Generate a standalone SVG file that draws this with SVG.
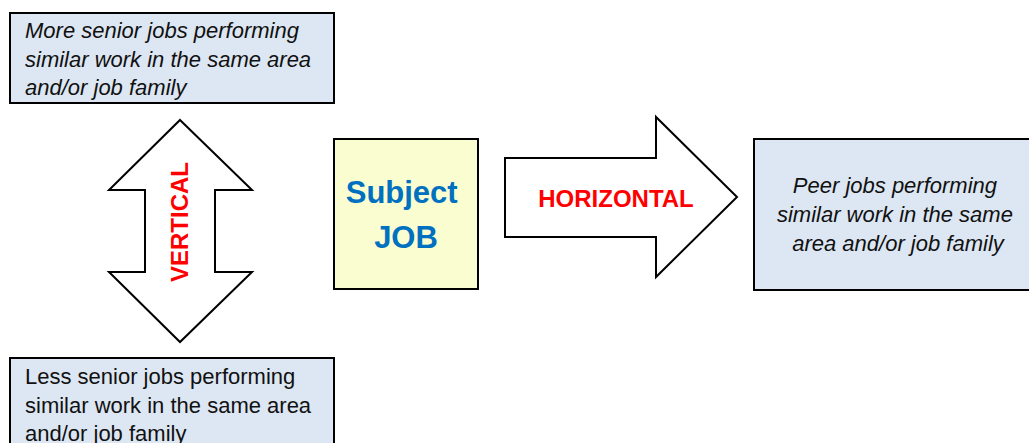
<svg xmlns="http://www.w3.org/2000/svg" width="1029" height="443" viewBox="0 0 1029 443">
  <style>
    .box { stroke: #000; stroke-width: 2; }
    .blue { fill: #DDE7F3; }
    .yellow { fill: #FAFDD0; }
    .arrow { fill: #fff; stroke: #000; stroke-width: 2; stroke-linejoin: miter; }
    .desc { font-family: "Liberation Sans", Arial, sans-serif; font-size: 22px; fill: #111; }
    .it { font-style: italic; }
    .dir { font-family: "Liberation Sans", Arial, sans-serif; font-weight: bold; font-size: 24px; fill: #FF0000; }
    .subj { font-family: "Liberation Sans", Arial, sans-serif; font-weight: bold; font-size: 31px; fill: #0070C0; }
  </style>

  <!-- More senior jobs -->
  <g id="senior">
    <rect class="box blue" x="10" y="13" width="324" height="90"/>
    <text class="desc it" x="25">
      <tspan x="25" y="38">More senior jobs performing</tspan>
      <tspan x="25" y="67">similar work in the same area</tspan>
      <tspan x="25" y="95">and/or job family</tspan>
    </text>
  </g>

  <!-- Less senior jobs -->
  <g id="junior">
    <rect class="box blue" x="10" y="358" width="324" height="100"/>
    <text class="desc" x="25">
      <tspan x="25" y="384">Less senior jobs performing</tspan>
      <tspan x="25" y="413">similar work in the same area</tspan>
      <tspan x="25" y="441">and/or job family</tspan>
    </text>
  </g>

  <!-- Subject job -->
  <g id="subject">
    <rect class="box yellow" x="334" y="139" width="144" height="150"/>
    <text class="subj" text-anchor="middle">
      <tspan x="406" y="203">Subject</tspan>
      <tspan x="406" y="248">JOB</tspan>
    </text>
  </g>

  <!-- Peer jobs -->
  <g id="peer">
    <rect class="box blue" x="754" y="139" width="290" height="151"/>
    <text class="desc it" text-anchor="middle">
      <tspan x="898" y="193">Peer jobs performing</tspan>
      <tspan x="898" y="222">similar work in the same</tspan>
      <tspan x="898" y="251">area and/or job family</tspan>
    </text>
  </g>

  <!-- Block arrows -->
  <g id="connectors">
    <g id="vertical">
      <path class="arrow" d="M180,120 L252,190 L215,190 L215,272 L252,272 L180,342 L109,272 L145,272 L145,190 L109,190 Z"/>
      <text class="dir" text-anchor="middle" transform="translate(188,222) rotate(-90)" x="0" y="0">VERTICAL</text>
    </g>
    <g id="horizontal">
      <path class="arrow" d="M505,158 L656,158 L656,117 L737,197 L656,277 L656,237 L505,237 Z"/>
      <text class="dir" text-anchor="middle" x="616" y="207">HORIZONTAL</text>
    </g>
  </g>
</svg>
